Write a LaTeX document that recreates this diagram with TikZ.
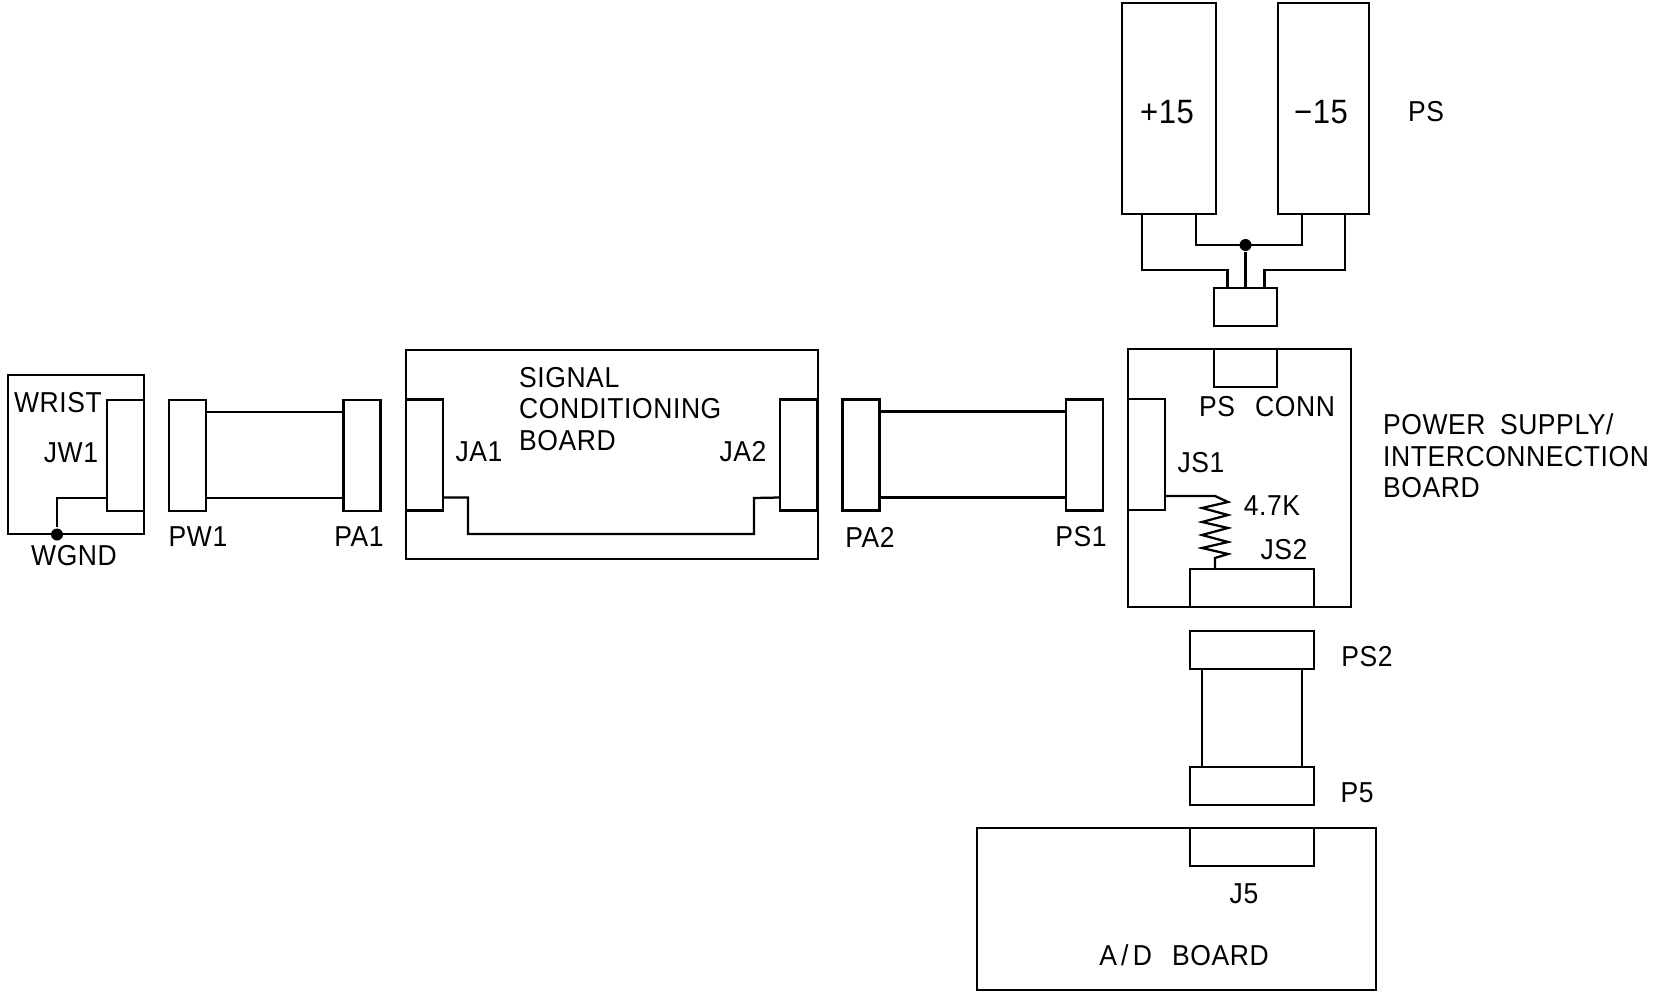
\documentclass[tikz,border=0pt]{standalone}
\usepackage{fontspec}
\setmainfont[FakeStretch=0.92,LetterSpace=2]{Liberation Sans}
\tikzset{
    wirepic/.style={x=0.05cm, y=-0.05cm, line width=3.2pt, line join=miter},
    box/.style={draw, rectangle, inner sep=0pt, outer sep=0pt},
    connv/.style={box, minimum width=1.85cm, minimum height=5.55cm},
    connh/.style={box, minimum width=3.15cm, minimum height=1.9cm},
    connw/.style={box, minimum width=6.2cm, minimum height=1.9cm},
    lbl/.style={inner sep=0pt, align=left, font=\fontsize{41}{45}\selectfont},
    biglbl/.style={lbl, font=\fontsize{48}{50}\selectfont},
    jdot/.style={circle, fill, inner sep=0pt, minimum size=0.6cm}
}
\begin{document}
\begin{tikzpicture}[wirepic]

    \useasboundingbox (0,0) rectangle (1654,994);

    % 1. Placas
    \node[box, minimum width=6.8cm, minimum height=7.95cm] (wrist) at (76,454.5) {};
    \node[box, minimum width=20.6cm, minimum height=10.45cm] (signal) at (612,454.5) {};
    \node[box, minimum width=11.15cm, minimum height=12.9cm] (power) at (1239.5,478) {};
    \node[box, minimum width=19.95cm, minimum height=8.1cm] (adboard) at (1176.5,909) {};

    % 2. Fontes
    \node[box, minimum width=4.7cm, minimum height=10.55cm] (plus) at (1169,108.5) {};
    \node[box, minimum width=4.55cm, minimum height=10.55cm] (minus) at (1323.5,108.5) {};
    \node[connh] (psplug) at (1245.5,307) {};

    % 3. Conectores
    \node[connv] (jw1) at (125.5,455.5) {};
    \node[connv] (pw1) at (187.5,455.5) {};
    \node[connv] (pa1) at (362,455.5) {};
    \node[connv] (ja1) at (424.5,455) {};
    \node[connv] (ja2) at (798.5,455) {};
    \node[connv] (pa2) at (861,455) {};
    \node[connv] (ps1) at (1084.5,455) {};
    \node[connv] (js1) at (1146.5,454.5) {};
    \node[connh] (psconn) at (1245.5,368) {};
    \node[connw] (js2) at (1252,588) {};
    \node[connw] (ps2) at (1252,650) {};
    \node[connw] (p5) at (1252,786) {};
    \node[connw] (j5) at (1252,847) {};

    % 4. Cabos
    \draw ([yshift=-0.6cm]pw1.north east) -- ([yshift=-0.6cm]pa1.north west);
    \draw ([yshift=0.65cm]pw1.south east) -- ([yshift=0.65cm]pa1.south west);
    \draw ([yshift=-0.6cm]pa2.north east) -- ([yshift=-0.6cm]ps1.north west);
    \draw ([yshift=0.65cm]pa2.south east) -- ([yshift=0.65cm]ps1.south west);
    \draw ([xshift=0.6cm]ps2.south west) -- ([xshift=0.6cm]p5.north west);
    \draw ([xshift=-0.6cm]ps2.south east) -- ([xshift=-0.6cm]p5.north east);

    % 5. Fios
    \node[jdot] (wgnddot) at (57,534.5) {};
    \draw ([yshift=0.65cm]jw1.south west) -| (wgnddot);
    \draw ([yshift=0.65cm]ja1.south east) -- ++(25,0) |- (754,534) -- (754,498) -- ([yshift=0.65cm]ja2.south west);

    \node[jdot] (psdot) at (1245.5,245) {};
    \draw ([xshift=-3.7cm]plus.south east) -- ++(0,56) -| ([xshift=-0.9cm]psplug.north);
    \draw ([xshift=-1.2cm]minus.south east) -- ++(0,56) -| ([xshift=0.95cm]psplug.north);
    \draw ([xshift=-1cm]plus.south east) |- (psdot.center) -| ([xshift=1.2cm]minus.south west);
    \draw (psdot) -- (psplug);

    % 6. Resistor
    \draw ([yshift=0.7cm]js1.south east) -- (1215,496) -- (1228,502) -- (1202,508) -- (1228,515)
        -- (1202,522) -- (1228,528) -- (1202,535) -- (1228,542) -- (1202,548) -- (1228,554)
        -- (1215,558) -- (1215,558 |- js2.north);

    % 7. Textos
    \node[lbl] (wristlbl) at (58,403) {WRIST};
    \node[lbl] (jw1lbl) at (71,453) {JW1};
    \node[lbl] (wgndlbl) at (74,556) {WGND};
    \node[lbl] (pw1lbl) at (198,537) {PW1};
    \node[lbl] (pa1lbl) at (359,537) {PA1};
    \node[lbl, anchor=west] (signallbl) at (518,409) {SIGNAL\\CONDITIONING\\BOARD};
    \node[lbl] (ja1lbl) at (479,452) {JA1};
    \node[lbl] (ja2lbl) at (743,452) {JA2};
    \node[lbl] (pa2lbl) at (870,537) {PA2};
    \node[lbl] (ps1lbl) at (1081,537) {PS1};
    \node[lbl] (psconnlbl) at (1267,407) {PS\hspace{0.7em}CONN};
    \node[lbl] (js1lbl) at (1201,463) {JS1};
    \node[lbl] (reslbl) at (1272,506) {4.7K};
    \node[lbl] (js2lbl) at (1284,550) {JS2};
    \node[lbl, anchor=west] (powerlbl) at (1382,456) {POWER\hspace{0.5em}SUPPLY/\\INTERCONNECTION\\BOARD};
    \node[biglbl] (pluslbl) at (1167,112) {+15};
    \node[biglbl] (minuslbl) at (1321,112) {−15};
    \node[lbl] (pslbl) at (1426,112) {PS};
    \node[lbl] (ps2lbl) at (1367,657) {PS2};
    \node[lbl] (p5lbl) at (1357,793) {P5};
    \node[lbl] (j5lbl) at (1244,894) {J5};
    \node[lbl] (adlbl) at (1184,955) {A\kern6pt/\kern6pt D\hspace{0.7em}BOARD};

\end{tikzpicture}
\end{document}
